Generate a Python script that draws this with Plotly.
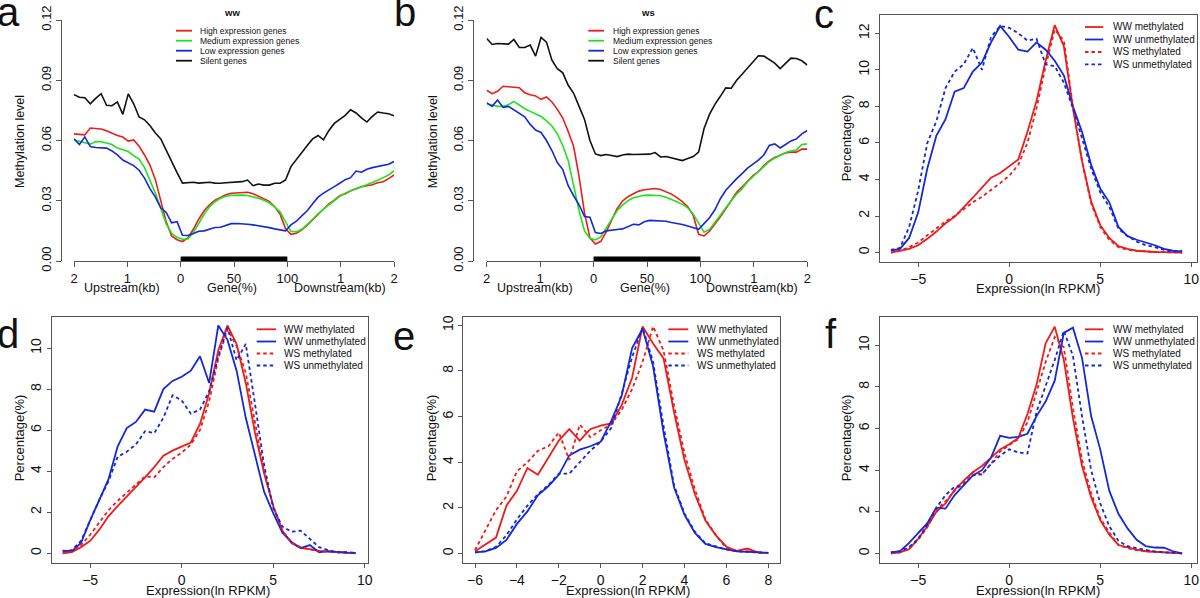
import plotly.graph_objects as go

W, H = 1200, 598
FONT = "Liberation Sans, Arial, Helvetica, sans-serif"
RED, GREEN, BLUE, BLACK = "#ee1b1b", "#1ee21e", "#1428d8", "#111111"
AXC = "#555555"
TXT = "#111111"

# ---------------- data: methylation profiles (panels a, b) ----------------
# 60 bins: 20 upstream (2kb -> TSS), 20 along gene body (0-100%), 20 downstream (TES -> 2kb)
bin_pos = [i * 300 / 59 for i in range(60)]
profile_ticks = [0, 50, 100, 150, 200, 250, 300]
profile_ticktext = ["2", "1", "0", "50", "100", "1", "2"]
profile_groups = ["High expression genes", "Medium expression genes",
                  "Low expression genes", "Silent genes"]

ww_high = [0.0633, 0.0632, 0.0628, 0.0662, 0.0660, 0.0657, 0.0648, 0.0636, 0.0625, 0.0617,
           0.0597, 0.0603, 0.0572, 0.0528, 0.0478, 0.0405, 0.0305, 0.0195, 0.0125, 0.0106,
           0.0097, 0.0115, 0.0158, 0.0208, 0.0250, 0.0280, 0.0303, 0.0318, 0.0330, 0.0337,
           0.0338, 0.0338, 0.0342, 0.0335, 0.0323, 0.0312, 0.0297, 0.0270, 0.0233, 0.0160,
           0.0133, 0.0138, 0.0155, 0.0178, 0.0205, 0.0232, 0.0260, 0.0285, 0.0303, 0.0325,
           0.0335, 0.0350, 0.0360, 0.0370, 0.0375, 0.0380, 0.0390, 0.0395, 0.0410, 0.0428]
ww_medium = [0.0603, 0.0595, 0.0587, 0.0582, 0.0595, 0.0594, 0.0588, 0.0580, 0.0562, 0.0554,
             0.0545, 0.0525, 0.0508, 0.0465, 0.0405, 0.0338, 0.0262, 0.0185, 0.0138, 0.0118,
             0.0108, 0.0110, 0.0142, 0.0190, 0.0232, 0.0270, 0.0295, 0.0312, 0.0322, 0.0327,
             0.0328, 0.0328, 0.0326, 0.0321, 0.0313, 0.0302, 0.0290, 0.0268, 0.0245, 0.0195,
             0.0148, 0.0145, 0.0158, 0.0182, 0.0210, 0.0235, 0.0258, 0.0280, 0.0302, 0.0322,
             0.0338, 0.0350, 0.0362, 0.0370, 0.0380, 0.0390, 0.0402, 0.0415, 0.0428, 0.0450]
ww_low = [0.0608, 0.0580, 0.0618, 0.0570, 0.0565, 0.0562, 0.0562, 0.0548, 0.0528, 0.0503,
          0.0490, 0.0475, 0.0452, 0.0413, 0.0360, 0.0318, 0.0265, 0.0242, 0.0190, 0.0196,
          0.0128, 0.0127, 0.0137, 0.0148, 0.0150, 0.0158, 0.0167, 0.0168, 0.0178, 0.0186,
          0.0187, 0.0186, 0.0183, 0.0180, 0.0176, 0.0171, 0.0166, 0.0160, 0.0155, 0.0150,
          0.0180, 0.0198, 0.0225, 0.0250, 0.0285, 0.0318, 0.0338, 0.0356, 0.0370, 0.0387,
          0.0405, 0.0415, 0.0448, 0.0442, 0.0457, 0.0465, 0.0470, 0.0476, 0.0482, 0.0495]
ww_silent = [0.0828, 0.0815, 0.0813, 0.0783, 0.0810, 0.0833, 0.0775, 0.0773, 0.0792, 0.0730,
             0.0832, 0.0783, 0.0717, 0.0703, 0.0675, 0.0637, 0.0608, 0.0550, 0.0500, 0.0440,
             0.0388, 0.0390, 0.0392, 0.0388, 0.0390, 0.0392, 0.0388, 0.0387, 0.0390, 0.0392,
             0.0392, 0.0395, 0.0403, 0.0375, 0.0383, 0.0378, 0.0378, 0.0387, 0.0387, 0.0403,
             0.0470, 0.0505, 0.0545, 0.0575, 0.0608, 0.0625, 0.0603, 0.0650, 0.0685, 0.0705,
             0.0725, 0.0753, 0.0737, 0.0713, 0.0692, 0.0720, 0.0742, 0.0737, 0.0733, 0.0723]

ws_high = [0.0850, 0.0833, 0.0845, 0.0870, 0.0868, 0.0867, 0.0863, 0.0838, 0.0828, 0.0822,
           0.0805, 0.0817, 0.0792, 0.0755, 0.0712, 0.0645, 0.0570, 0.0420, 0.0240, 0.0115,
           0.0085, 0.0098, 0.0145, 0.0205, 0.0260, 0.0298, 0.0320, 0.0335, 0.0348, 0.0355,
           0.0358, 0.0361, 0.0356, 0.0345, 0.0333, 0.0316, 0.0296, 0.0270, 0.0228, 0.0133,
           0.0125, 0.0148, 0.0182, 0.0220, 0.0260, 0.0300, 0.0342, 0.0368, 0.0397, 0.0425,
           0.0445, 0.0475, 0.0498, 0.0515, 0.0527, 0.0538, 0.0542, 0.0542, 0.0558, 0.0557]
ws_medium = [0.0783, 0.0775, 0.0770, 0.0770, 0.0778, 0.0795, 0.0775, 0.0758, 0.0745, 0.0733,
             0.0720, 0.0698, 0.0672, 0.0633, 0.0575, 0.0500, 0.0370, 0.0250, 0.0150, 0.0113,
             0.0105, 0.0120, 0.0165, 0.0210, 0.0250, 0.0278, 0.0300, 0.0315, 0.0322, 0.0327,
             0.0328, 0.0328, 0.0325, 0.0318, 0.0308, 0.0295, 0.0282, 0.0265, 0.0233, 0.0190,
             0.0143, 0.0157, 0.0190, 0.0228, 0.0265, 0.0300, 0.0333, 0.0360, 0.0395, 0.0420,
             0.0445, 0.0475, 0.0495, 0.0512, 0.0528, 0.0540, 0.0548, 0.0553, 0.0580, 0.0583]
ws_low = [0.0787, 0.0770, 0.0802, 0.0765, 0.0770, 0.0753, 0.0738, 0.0718, 0.0680, 0.0652,
          0.0640, 0.0600, 0.0550, 0.0490, 0.0455, 0.0375, 0.0325, 0.0280, 0.0222, 0.0218,
          0.0142, 0.0137, 0.0150, 0.0155, 0.0157, 0.0160, 0.0172, 0.0183, 0.0180, 0.0195,
          0.0202, 0.0200, 0.0200, 0.0198, 0.0192, 0.0188, 0.0182, 0.0174, 0.0165, 0.0158,
          0.0186, 0.0215, 0.0255, 0.0310, 0.0352, 0.0382, 0.0410, 0.0435, 0.0462, 0.0482,
          0.0502, 0.0528, 0.0575, 0.0583, 0.0563, 0.0580, 0.0598, 0.0608, 0.0633, 0.0650]
ws_silent = [0.1108, 0.1078, 0.1083, 0.1083, 0.1080, 0.1103, 0.1063, 0.1063, 0.1075, 0.1020,
             0.1113, 0.1090, 0.1000, 0.0958, 0.0937, 0.0875, 0.0835, 0.0770, 0.0705, 0.0600,
             0.0533, 0.0525, 0.0530, 0.0525, 0.0520, 0.0528, 0.0532, 0.0530, 0.0530, 0.0532,
             0.0532, 0.0540, 0.0518, 0.0520, 0.0513, 0.0505, 0.0500, 0.0510, 0.0520, 0.0542,
             0.0660, 0.0730, 0.0780, 0.0820, 0.0862, 0.0860, 0.0900, 0.0930, 0.0962, 0.0990,
             0.1022, 0.1020, 0.1002, 0.0985, 0.0958, 0.0985, 0.1010, 0.1008, 0.0997, 0.0975]

# ---------------- data: expression distributions (panels c-f) ----------------
series_names = ["WW methylated", "WW unmethylated", "WS methylated", "WS unmethylated"]
expr_wide = [-6.5, -6.0, -5.5, -5.0, -4.5, -4.0, -3.5, -3.0, -2.5, -2.0, -1.5, -1.0, -0.5,
             0.0, 0.5, 1.0, 1.5, 2.0, 2.5, 3.0, 3.5, 4.0, 4.5, 5.0, 5.5, 6.0, 6.5, 7.0,
             7.5, 8.0, 8.5, 9.0, 9.5]
expr_narrow = [-6.0, -5.5, -5.0, -4.5, -4.0, -3.5, -3.0, -2.5, -2.0, -1.5, -1.0, -0.5, 0.0,
               0.5, 1.0, 1.5, 2.0, 2.5, 3.0, 3.5, 4.0, 4.5, 5.0, 5.5, 6.0, 6.5, 7.0, 7.5, 8.0]

c_ww_meth = [0.0, 0.1, 0.2, 0.4, 0.75, 1.15, 1.6, 1.95, 2.45, 3.0, 3.55, 4.1, 4.35, 4.7, 5.1,
             6.6, 8.3, 10.5, 12.45, 11.3, 7.9, 5.0, 2.8, 1.5, 0.8, 0.35, 0.2, 0.1, 0.05, 0.03,
             0.02, 0.0, 0.0]
c_ww_unmeth = [0.1, 0.2, 0.8, 2.2, 4.6, 6.4, 7.3, 8.8, 9.0, 9.9, 10.4, 11.5, 12.4, 11.8, 11.1,
               11.0, 11.5, 11.1, 10.5, 9.7, 8.0, 6.6, 4.8, 3.5, 2.75, 1.4, 0.9, 0.7, 0.55, 0.4,
               0.2, 0.1, 0.05]
c_ws_meth = [0.0, 0.1, 0.3, 0.55, 0.95, 1.35, 1.7, 2.0, 2.4, 2.75, 3.05, 3.4, 3.8, 4.2, 4.8,
             6.0, 7.9, 10.2, 12.2, 11.6, 8.0, 5.0, 2.7, 1.4, 0.7, 0.3, 0.15, 0.1, 0.05, 0.03,
             0.02, 0.0, 0.0]
c_ws_unmeth = [0.15, 0.25, 1.4, 3.4, 6.0, 7.2, 9.0, 9.9, 10.3, 11.2, 10.0, 11.8, 12.4, 12.3,
               12.0, 11.6, 11.7, 10.3, 10.2, 9.3, 7.9, 6.2, 4.6, 3.3, 2.5, 1.3, 0.9, 0.6, 0.4,
               0.3, 0.15, 0.05, 0.1]

d_ww_meth = [0.0, 0.05, 0.3, 0.6, 1.15, 1.8, 2.3, 2.75, 3.25, 3.7, 4.2, 4.75, 5.0, 5.2, 5.4,
             6.3, 7.8, 9.9, 11.1, 10.2, 8.3, 5.9, 3.9, 2.3, 1.1, 0.5, 0.25, 0.2, 0.12, 0.08,
             0.05, 0.02, 0.0]
d_ww_unmeth = [0.13, 0.1, 0.5, 1.6, 2.6, 3.6, 5.2, 6.1, 6.4, 7.0, 6.9, 8.0, 8.4, 8.6, 8.9,
               9.6, 8.3, 11.1, 10.4, 8.9, 6.6, 4.8, 3.0, 1.95, 1.0, 0.55, 0.25, 0.4, 0.05, 0.1,
               0.05, 0.03, 0.02]
d_ws_meth = [0.0, 0.1, 0.4, 0.9, 1.5, 2.1, 2.55, 2.95, 3.35, 3.75, 3.7, 4.2, 4.6, 4.9, 5.3,
             6.0, 7.4, 9.5, 10.9, 10.1, 8.8, 6.3, 4.0, 2.3, 1.1, 0.5, 0.3, 0.2, 0.1, 0.08,
             0.05, 0.05, 0.0]
d_ws_unmeth = [0.1, 0.15, 0.6, 1.6, 2.6, 3.5, 4.7, 4.95, 5.3, 5.95, 5.85, 6.6, 7.7, 7.45, 6.8,
               7.0, 7.9, 9.6, 11.0, 9.4, 10.2, 7.3, 4.3, 2.2, 1.3, 1.05, 1.1, 0.7, 0.3, 0.15,
               0.05, 0.05, 0.03]

e_ww_meth = [0.1, 0.4, 0.7, 2.1, 2.75, 3.75, 3.45, 4.2, 4.95, 5.45, 4.95, 5.45, 5.6, 5.7, 6.5,
             7.7, 9.95, 9.2, 8.55, 6.2, 4.1, 2.6, 1.45, 0.8, 0.3, 0.12, 0.22, 0.05, 0.02]
e_ww_unmeth = [0.05, 0.1, 0.25, 0.6, 1.3, 1.85, 2.55, 2.95, 3.45, 4.3, 4.55, 4.7, 4.9, 5.8,
               6.9, 9.0, 9.85, 8.2, 5.3, 2.9, 1.7, 0.9, 0.42, 0.28, 0.18, 0.1, 0.08, 0.05, 0.03]
e_ws_meth = [0.15, 1.0, 1.9, 2.5, 3.6, 4.0, 4.5, 4.7, 5.3, 4.1, 5.65, 5.1, 5.4, 5.65, 6.3,
             7.2, 8.4, 9.95, 8.9, 6.5, 4.4, 2.8, 1.5, 0.8, 0.25, 0.1, 0.1, 0.05, 0.02]
e_ws_unmeth = [0.05, 0.1, 0.3, 0.8, 1.5, 2.1, 2.6, 3.0, 3.5, 3.5, 4.0, 4.5, 4.9, 5.5, 7.0,
               8.6, 9.9, 8.4, 5.6, 3.0, 1.75, 0.95, 0.45, 0.3, 0.18, 0.1, 0.07, 0.05, 0.03]

f_ww_meth = [0.0, 0.05, 0.2, 0.7, 1.3, 2.0, 2.4, 3.05, 3.5, 3.9, 4.2, 4.6, 5.0, 5.25, 5.55,
             6.7, 8.1, 10.1, 10.9, 9.3, 6.5, 4.2, 2.7, 1.6, 0.9, 0.4, 0.28, 0.18, 0.1, 0.07,
             0.04, 0.02, 0.0]
f_ww_unmeth = [0.05, 0.1, 0.5, 0.95, 1.45, 2.2, 2.15, 2.8, 3.3, 3.75, 4.0, 4.6, 5.65, 5.55,
               5.6, 5.75, 6.6, 7.3, 8.3, 10.6, 10.85, 9.4, 6.6, 5.0, 3.0, 1.9, 1.2, 0.65, 0.35,
               0.28, 0.27, 0.1, 0.0]
f_ws_meth = [0.0, 0.05, 0.25, 0.65, 1.25, 2.1, 2.5, 3.0, 3.4, 3.9, 3.8, 4.3, 4.9, 5.2, 5.5,
             6.3, 7.8, 9.2, 10.4, 9.9, 7.0, 4.5, 2.9, 1.7, 1.0, 0.4, 0.25, 0.15, 0.1, 0.08,
             0.05, 0.03, 0.0]
f_ws_unmeth = [0.05, 0.1, 0.3, 0.7, 1.4, 2.2, 2.8, 3.2, 3.3, 3.75, 3.8, 4.3, 4.7, 5.0, 4.85,
               4.8, 6.8, 8.0, 9.3, 10.7, 9.5, 6.6, 4.0, 2.4, 1.3, 0.6, 0.35, 0.25, 0.15, 0.08,
               0.05, 0.03, 0.0]

# ---------------- helpers ----------------
def fx(p):
    return p / W


def fy(p):
    return 1 - p / H


annotations = []
shapes = []
layout_axes = {}


def add_text(x, y, text, size, angle=0, anchor="center", bold=False):
    annotations.append(dict(
        x=fx(x), y=fy(y), xref="paper", yref="paper", text=f"<b>{text}</b>" if bold else text,
        showarrow=False, textangle=angle, xanchor=anchor, yanchor="middle",
        font=dict(family=FONT, size=size, color=TXT), borderpad=0))


def add_legend(x0, x1, xt, rows, items, size):
    for (label, color, dash), yr in zip(items, rows):
        shapes.append(dict(type="line", xref="paper", yref="paper", x0=fx(x0), x1=fx(x1),
                           y0=fy(yr), y1=fy(yr), line=dict(color=color, width=1.8, dash=dash)))
        add_text(xt, yr, label, size, anchor="left")


DASH = "3.5px,3px"
tick_font_ab = dict(family=FONT, size=13, color=TXT)
tick_font_cf = dict(family=FONT, size=14, color=TXT)

fig = go.Figure()

# ---------------- panels a, b ----------------
profile_panels = [
    dict(n="", xl=74, xr=394, yaxis_px=61, title="ww",
         vals=[ww_high, ww_medium, ww_low, ww_silent],
         lab_up=122, lab_gene=232, lab_down=340, ytitle_x=20, title_x=231.7,
         leg=(176, 192, 199)),
    dict(n="2", xl=486.7, xr=807.3, yaxis_px=473.3, title="ws",
         vals=[ws_high, ws_medium, ws_low, ws_silent],
         lab_up=535, lab_gene=645, lab_down=751.7, ytitle_x=433.3, title_x=648.3,
         leg=(588.3, 604, 611.7)),
]
prof_colors = [RED, GREEN, BLUE, BLACK]
for p in profile_panels:
    xa, ya = "x" + p["n"], "y" + p["n"]
    for name, vals, col in zip(profile_groups, p["vals"], prof_colors):
        fig.add_trace(go.Scatter(x=bin_pos, y=vals, mode="lines", name=name, showlegend=False,
                                 line=dict(color=col, width=1.6), xaxis=xa, yaxis=ya))
    layout_axes["xaxis" + p["n"]] = dict(
        domain=[fx(p["xl"]), fx(p["xr"])], range=[0, 300], anchor=ya, showline=True,
        linecolor=AXC, linewidth=1, ticks="outside", ticklen=5, tickcolor=AXC,
        tickvals=profile_ticks, ticktext=profile_ticktext, tickfont=tick_font_ab,
        showgrid=False, zeroline=False, automargin=False, ticklabeloverflow="allow")
    layout_axes["yaxis" + p["n"]] = dict(
        domain=[fy(261), fy(20)], range=[0, 0.12], anchor="free", position=fx(p["yaxis_px"]),
        showline=True, linecolor=AXC, linewidth=1, ticks="outside", ticklen=5, tickcolor=AXC,
        tickvals=[0, 0.03, 0.06, 0.09, 0.12],
        ticktext=["0.00", "0.03", "0.06", "0.09", "0.12"], tickangle=-90,
        tickfont=tick_font_ab, showgrid=False, zeroline=False, automargin=False,
        ticklabeloverflow="allow")
    # gene body bar on the x axis
    shapes.append(dict(type="rect", xref=xa, yref=ya, x0=100, x1=200, y0=0, y1=0.0023,
                       fillcolor="black", line=dict(width=0)))
    add_text(p["lab_up"], 288, "Upstream(kb)", 12.5)
    add_text(p["lab_gene"], 288, "Gene(%)", 12.5)
    add_text(p["lab_down"], 288, "Downstream(kb)", 12.5)
    add_text(p["ytitle_x"], 142, "Methylation level", 12.5, angle=-90)
    add_text(p["title_x"], 13, p["title"], 9.5, bold=True)
    lx0, lx1, lxt = p["leg"]
    add_legend(lx0, lx1, lxt, [30.7, 40.7, 50.7, 60.7],
               [(g, c, "solid") for g, c in zip(profile_groups, prof_colors)], 8.5)

# ---------------- panels c-f ----------------
dist_panels = [
    dict(n="3", xl=880, xr=1196.7, yt=15, yb=261.7, xr_=[-7.1, 10.3], yr_=[-0.5, 13.0],
         xt=[-5, 0, 5, 10], yt_=[0, 2, 4, 6, 8, 10, 12], x=expr_wide,
         vals=[c_ww_meth, c_ww_unmeth, c_ws_meth, c_ws_unmeth],
         xtitle=(1037.7, 288.5), ytitle=(846, 138.3), leg=(1085, 1103.3, 1111.7),
         rows=[27, 39.5, 52, 64.3]),
    dict(n="4", xl=51.7, xr=367.7, yt=317.3, yb=562.7, xr_=[-7.1, 10.16], yr_=[-0.46, 11.5],
         xt=[-5, 0, 5, 10], yt_=[0, 2, 4, 6, 8, 10], x=expr_wide,
         vals=[d_ww_meth, d_ww_unmeth, d_ws_meth, d_ws_unmeth],
         xtitle=(208.3, 590), ytitle=(19, 438.3), leg=(256.7, 276, 283.3),
         rows=[329.3, 341.5, 353.5, 365.5]),
    dict(n="5", xl=463.3, xr=780, yt=317.3, yb=562.7, xr_=[-6.56, 8.56], yr_=[-0.4, 10.35],
         xt=[-6, -4, -2, 0, 2, 4, 6, 8], yt_=[0, 2, 4, 6, 8, 10], x=expr_narrow,
         vals=[e_ww_meth, e_ww_unmeth, e_ws_meth, e_ws_unmeth],
         xtitle=(628.3, 590), ytitle=(431, 438.3), leg=(668.3, 688.3, 696),
         rows=[329.3, 341.5, 353.5, 365.5]),
    dict(n="6", xl=880, xr=1196.7, yt=317.3, yb=562.7, xr_=[-7.1, 10.3], yr_=[-0.45, 11.35],
         xt=[-5, 0, 5, 10], yt_=[0, 2, 4, 6, 8, 10], x=expr_wide,
         vals=[f_ww_meth, f_ww_unmeth, f_ws_meth, f_ws_unmeth],
         xtitle=(1037.7, 590), ytitle=(846, 438.3), leg=(1085, 1103.3, 1111.7),
         rows=[329.3, 341.5, 353.5, 365.5]),
]
dist_styles = [(RED, "solid"), (BLUE, "solid"), (RED, DASH), (BLUE, DASH)]
for p in dist_panels:
    xa, ya = "x" + p["n"], "y" + p["n"]
    for name, vals, (col, dash) in zip(series_names, p["vals"], dist_styles):
        fig.add_trace(go.Scatter(x=p["x"], y=vals, mode="lines", name=name, showlegend=False,
                                 line=dict(color=col, width=1.8, dash=dash),
                                 xaxis=xa, yaxis=ya))
    common = dict(showline=True, mirror=True, linecolor=AXC, linewidth=1, ticks="outside",
                  ticklen=4, tickcolor=AXC, tickfont=tick_font_cf, showgrid=False,
                  zeroline=False, automargin=False, ticklabeloverflow="allow")
    layout_axes["xaxis" + p["n"]] = dict(domain=[fx(p["xl"]), fx(p["xr"])], range=p["xr_"],
                                         anchor=ya, tickvals=p["xt"], **common)
    layout_axes["yaxis" + p["n"]] = dict(domain=[fy(p["yb"]), fy(p["yt"])], range=p["yr_"],
                                         anchor=xa, tickvals=p["yt_"], tickangle=-90,
                                         **common)
    add_text(p["xtitle"][0], p["xtitle"][1], "Expression(ln RPKM)", 13)
    add_text(p["ytitle"][0], p["ytitle"][1], "Percentage(%)", 13, angle=-90)
    lx0, lx1, lxt = p["leg"]
    add_legend(lx0, lx1, lxt, p["rows"],
               [(nm, c, d) for nm, (c, d) in zip(series_names, dist_styles)], 10)

# ---------------- panel letters ----------------
for letter, x, y in [("a", 8, 12), ("b", 405, 12), ("c", 824, 13.5),
                     ("d", 8, 334), ("e", 403.5, 336), ("f", 830.5, 334)]:
    add_text(x, y, letter, 40)

fig.update_layout(
    template="none",
    width=W, height=H, margin=dict(l=0, r=0, t=0, b=0, pad=0), autosize=False,
    paper_bgcolor="white", plot_bgcolor="white", showlegend=False,
    annotations=annotations, shapes=shapes, **layout_axes)

# remove the browser's default page margin so the 1200x598 figure fills the window exactly
fig.write_html("out.html",
               config={"displayModeBar": False, "responsive": False},
               post_script="document.body.style.margin='0';"
                           "document.body.style.overflow='hidden';")
